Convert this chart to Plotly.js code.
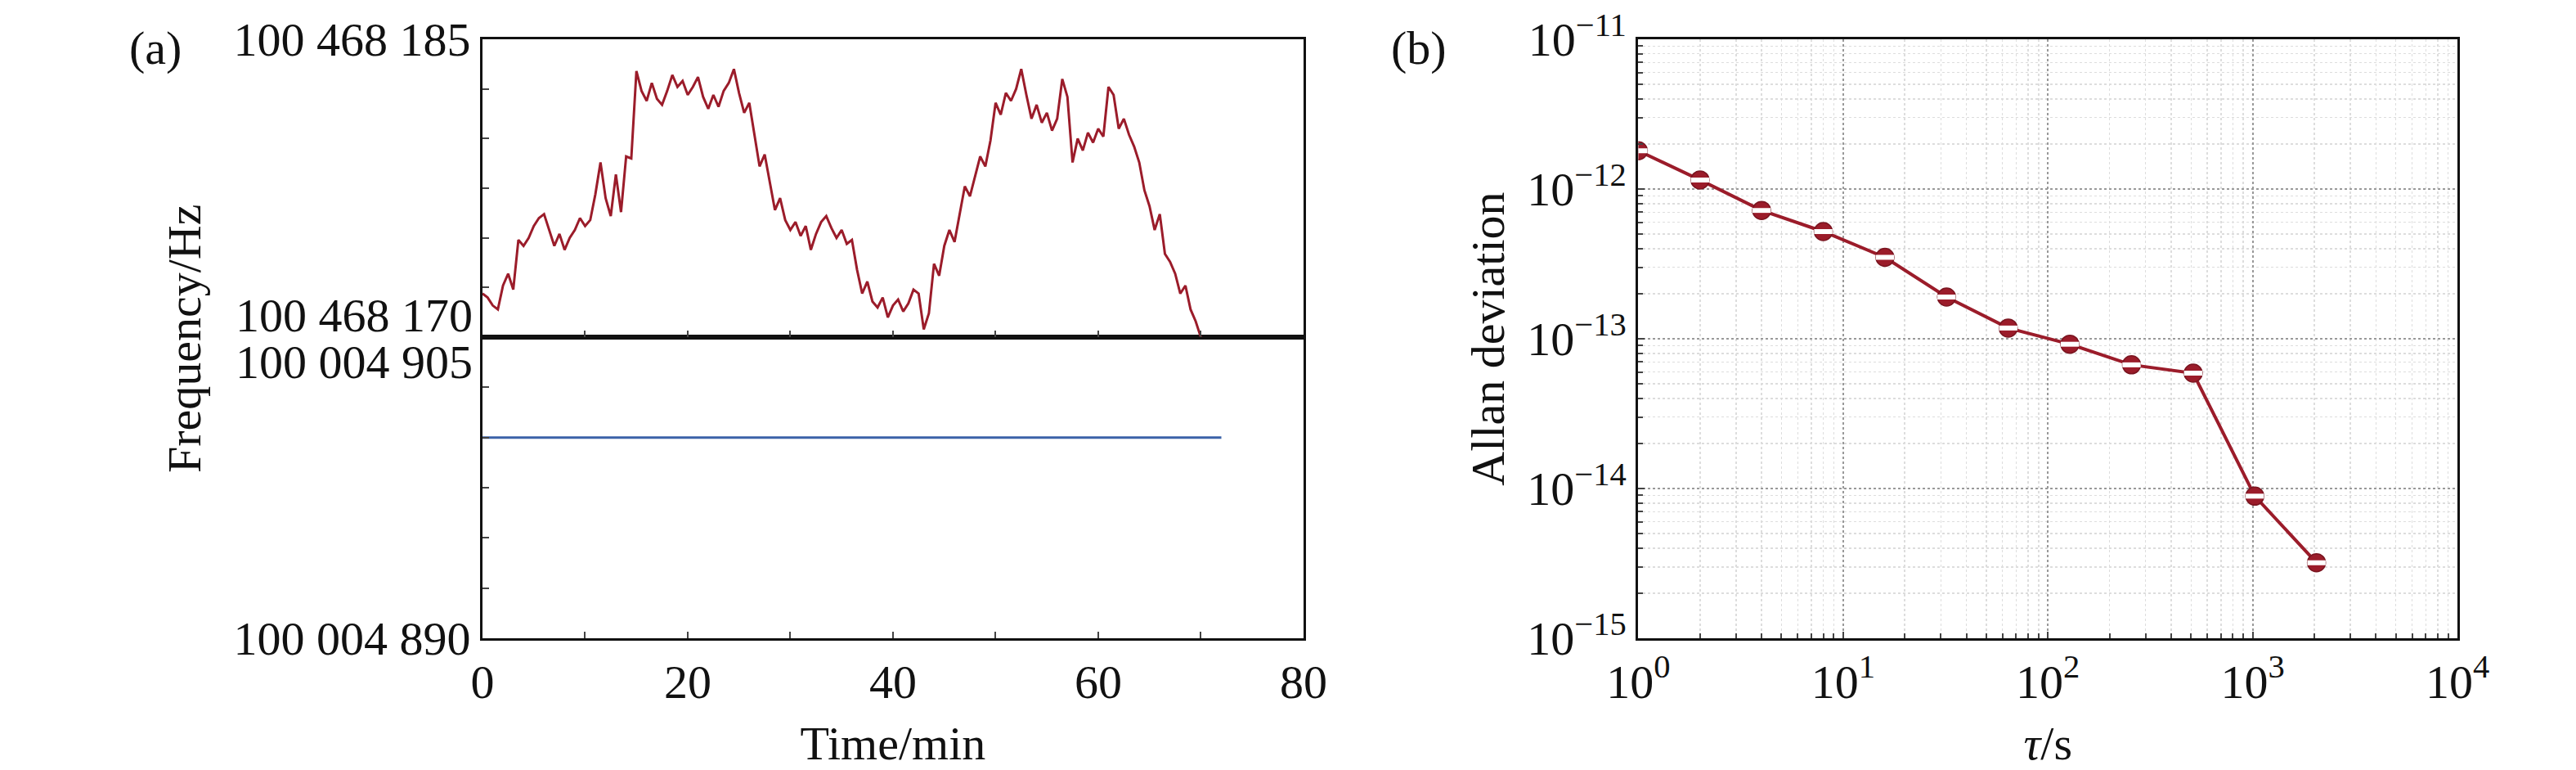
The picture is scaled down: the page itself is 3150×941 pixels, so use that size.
<!DOCTYPE html>
<html>
<head>
<meta charset="utf-8">
<script src="https://cdn.plot.ly/plotly-3.0.1.min.js"></script>
<style>body{margin:0;background:#fff}</style>
</head>
<body>
<div id="chart" style="width:3150px;height:941px"></div>
<script>
// (a) top: beat frequency offset above 100 468 170 Hz, every 0.5 min
let base1=100468170
let off1=[
2.2,2.0,1.6,1.4,2.6,3.2,2.4,4.9,4.6,5.0,5.6,6.0,6.2,5.4,4.6,5.2,
4.4,5.0,5.4,6.0,5.6,5.9,7.2,8.8,7.0,6.1,8.2,6.3,9.1,9.0,13.4,12.4,
11.9,12.8,12.0,11.7,12.4,13.2,12.6,12.9,12.2,12.6,13.1,12.1,11.5,12.2,11.6,12.4,
12.8,13.5,12.3,11.3,11.8,10.2,8.6,9.2,7.8,6.4,7.0,5.9,5.4,5.8,5.1,5.6,
4.4,5.2,5.8,6.1,5.5,5.0,5.4,4.7,4.9,3.4,2.2,2.8,1.8,1.5,2.0,1.0,
1.6,1.9,1.3,1.7,2.4,2.2,0.4,1.2,3.7,3.1,4.6,5.4,4.8,6.2,7.6,7.1,
8.1,9.1,8.6,9.9,11.8,11.2,12.3,11.9,12.5,13.5,12.2,11.0,11.7,10.8,11.3,10.4,
11.0,13.0,12.1,8.8,10.0,9.4,10.3,9.8,10.5,10.1,12.6,12.2,10.5,11.0,10.2,9.6,
8.8,7.4,6.6,5.4,6.2,4.2,3.8,3.2,2.2,2.6,1.4,0.8,0.0
]
let t1=off1.map((v,i)=>i*0.5)
let f1=off1.map(v=>base1+v)

// (a) bottom: reference frequency, constant
let t2=[0,72]
let f2=[100004900,100004900]

// (b) Allan deviation
let tau=[1,2,4,8,16,32,64,128,256,512,1024,2048]
let adev=[1.8e-12,1.15e-12,7.2e-13,5.2e-13,3.5e-13,1.9e-13,1.18e-13,9.2e-14,6.7e-14,5.9e-14,8.9e-15,3.2e-15]

let red="#9b1c2a"
let font={family:"Liberation Serif, serif",size:58,color:"#111"}

let yt1=[],yt2=[],ytx=[],ytx2=[]
for(let i=0;i<=6;i++){
yt1.push(base1+i*2.5);ytx.push(i==6?"100 468 185":"")
yt2.push(100004890+i*2.5);ytx2.push(i==0?"100 004 890":"")
}
let xt=[],xtx=[]
for(let i=0;i<=8;i++){xt.push(i*10);xtx.push(i%2==0?String(i*10):"")}

let minorLog=[]
for(let e=-15;e<4;e++)for(let m=2;m<10;m++)minorLog.push(m*Math.pow(10,e))

let sup=n=>"10<sup>"+n+"</sup>"

let traces=[
{x:t1,y:f1,xaxis:"x2",yaxis:"y2",mode:"lines",line:{color:red,width:3}},
{x:t2,y:f2,xaxis:"x",yaxis:"y",mode:"lines",line:{color:"#3b62a8",width:3}},
{x:tau,y:adev,xaxis:"x3",yaxis:"y3",mode:"lines+markers",line:{color:red,width:4},
marker:{size:22,color:red,line:{color:"#7a1520",width:1.5}}},
{x:tau,y:adev,xaxis:"x3",yaxis:"y3",mode:"markers",
marker:{symbol:"line-ew",size:16,line:{color:"#fff",width:6}}}
]

let axBase={showline:true,mirror:true,linecolor:"#111",linewidth:3,ticks:"inside",ticklen:8,tickwidth:2,showgrid:false,zeroline:false,tickfont:font}
let logMinor={tickvals:minorLog,ticks:"inside",ticklen:6,showgrid:true,gridcolor:"#ddd",griddash:"dot",gridwidth:1.5}

let layout={
width:3150,height:941,margin:{l:0,r:0,t:0,b:0},
paper_bgcolor:"#fff",plot_bgcolor:"#fff",showlegend:false,font:font,
xaxis:Object.assign({},axBase,{domain:[0.1873,0.506],anchor:"y",range:[0,80],tickvals:xt,ticktext:xtx,
title:{text:"Time/min",font:font,standoff:25}}),
yaxis:Object.assign({},axBase,{domain:[0.171,0.562],anchor:"x",range:[100004890,100004905],tickvals:yt2,ticktext:ytx2}),
xaxis2:Object.assign({},axBase,{domain:[0.1873,0.506],anchor:"y2",range:[0,80],tickvals:xt,showticklabels:false}),
yaxis2:Object.assign({},axBase,{domain:[0.562,0.949],anchor:"x2",range:[base1,base1+15],tickvals:yt1,ticktext:ytx}),
xaxis3:Object.assign({},axBase,{domain:[0.636,0.954],anchor:"y3",type:"log",range:[0,4],
tickvals:[1,10,100,1000,10000],ticktext:[sup(0),sup(1),sup(2),sup(3),sup(4)],
showgrid:true,gridcolor:"#999",griddash:"dot",gridwidth:2,minor:logMinor,
title:{text:"<i>τ</i>/s",font:font,standoff:25}}),
yaxis3:Object.assign({},axBase,{domain:[0.171,0.949],anchor:"x3",type:"log",range:[-15,-11],
tickvals:[1e-15,1e-14,1e-13,1e-12,1e-11],ticktext:[sup("−15"),sup("−14"),sup("−13"),sup("−12"),sup("−11")],
showgrid:true,gridcolor:"#999",griddash:"dot",gridwidth:2,minor:logMinor,
title:{text:"Allan deviation",font:font,standoff:10}}),
annotations:[
{text:"100 468 170",xref:"paper",yref:"paper",x:0.1873,xanchor:"right",xshift:-10,y:0.562,yanchor:"bottom",yshift:-8,showarrow:false,font:font},
{text:"100 004 905",xref:"paper",yref:"paper",x:0.1873,xanchor:"right",xshift:-10,y:0.562,yanchor:"top",yshift:4,showarrow:false,font:font},
{text:"Frequency/Hz",xref:"paper",yref:"paper",x:225/3150,xanchor:"center",y:0.56,textangle:-90,showarrow:false,font:font},
{text:"(a)",xref:"paper",yref:"paper",x:190/3150,xanchor:"center",y:0.975,showarrow:false,font:font},
{text:"(b)",xref:"paper",yref:"paper",x:1735/3150,xanchor:"center",y:0.975,showarrow:false,font:font}
]
}

Plotly.newPlot("chart",traces,layout,{staticPlot:true})
</script>
</body>
</html>
